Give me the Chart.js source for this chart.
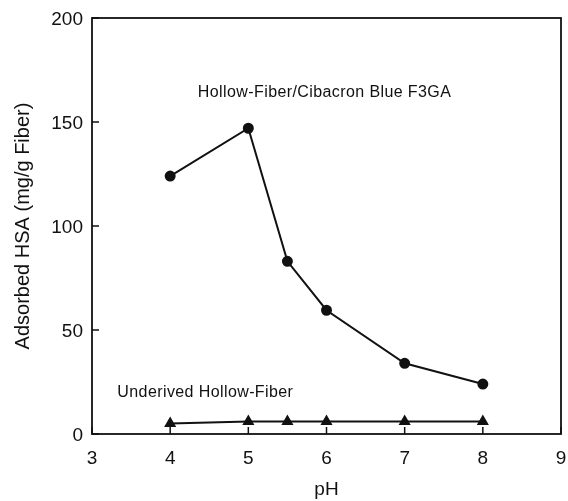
<!DOCTYPE html>
<html>
<head>
<meta charset="utf-8">
<script src="https://cdn.jsdelivr.net/npm/chart.js@4/dist/chart.umd.min.js"></script>
<style>
  html, body { margin: 0; padding: 0; background: #fff; }
  #wrap { width: 568px; height: 501px; position: relative; }
</style>
</head>
<body>
<div id="wrap"><canvas id="chart"></canvas></div>
<script>
// pH values where samples were taken
const phBlue = [4, 5, 5.5, 6, 7, 8];
const hsaBlue = [124, 147, 83, 59.5, 34, 24];

const phPlain = [4, 5, 5.5, 6, 7, 8];
const hsaPlain = [5, 6, 6, 6, 6, 6];

const xTicks = [3, 4, 5, 6, 7, 8, 9];
const yTicks = [0, 50, 100, 150, 200];

// curve labels, placed in data units
const notes = [
    { text: 'Hollow-Fiber/Cibacron Blue F3GA', x: 5.975, y: 163.9 },
    { text: 'Underived Hollow-Fiber', x: 4.45, y: 19.7 }
];

const ink = '#111';
const face = '"Liberation Sans", Arial, sans-serif';

const framePlugin = {
    id: 'frame',
    beforeDatasetsDraw(chart) {
        const { ctx, chartArea: a, scales: { x, y } } = chart;
        ctx.save();
        ctx.strokeStyle = ink;
        ctx.lineWidth = 1.8;
        ctx.strokeRect(a.left, a.top, a.right - a.left, a.bottom - a.top);
        // ticks point inward
        ctx.lineWidth = 1.5;
        ctx.beginPath();
        x.ticks.forEach(t => {
            const px = x.getPixelForValue(t.value);
            ctx.moveTo(px, a.bottom);
            ctx.lineTo(px, a.bottom - 7);
        });
        y.ticks.forEach(t => {
            const py = y.getPixelForValue(t.value);
            ctx.moveTo(a.left, py);
            ctx.lineTo(a.left + 7, py);
        });
        ctx.stroke();
        ctx.restore();
    },
    afterDraw(chart) {
        const { ctx, scales: { x, y } } = chart;
        ctx.save();
        ctx.fillStyle = ink;
        ctx.font = '16px ' + face;
        ctx.letterSpacing = '0.4px';
        ctx.textAlign = 'center';
        ctx.textBaseline = 'middle';
        notes.forEach(n => ctx.fillText(n.text, x.getPixelForValue(n.x), y.getPixelForValue(n.y)));
        ctx.restore();
    }
};

const toPoints = (xs, ys) => xs.map((v, i) => ({ x: v, y: ys[i] }));

new Chart(document.getElementById('chart'), {
    type: 'line',
    data: {
        datasets: [
            {
                label: 'Hollow-Fiber/Cibacron Blue F3GA',
                data: toPoints(phBlue, hsaBlue),
                borderColor: ink,
                backgroundColor: ink,
                borderWidth: 2,
                pointStyle: 'circle',
                pointRadius: 4.5,
                pointHoverRadius: 4.5,
                tension: 0
            },
            {
                label: 'Underived Hollow-Fiber',
                data: toPoints(phPlain, hsaPlain),
                borderColor: ink,
                backgroundColor: ink,
                borderWidth: 2,
                pointStyle: 'triangle',
                pointRadius: 5,
                pointHoverRadius: 5,
                tension: 0
            }
        ]
    },
    options: {
        responsive: true,
        maintainAspectRatio: false,
        animation: false,
        layout: { padding: { top: 18, right: 3, left: 0, bottom: 0 } },
        plugins: {
            legend: { display: false },
            tooltip: { enabled: false }
        },
        scales: {
            x: {
                type: 'linear',
                min: 3,
                max: 9,
                afterBuildTicks: s => { s.ticks = xTicks.map(v => ({ value: v })); },
                afterFit: s => { s.height = 67; s.paddingLeft = 0; s.paddingRight = 0; },
                grid: { display: false, drawTicks: false },
                border: { display: false },
                ticks: {
                    color: ink,
                    padding: 13,
                    font: { family: face, size: 19 }
                },
                title: {
                    display: true,
                    text: 'pH',
                    color: ink,
                    padding: { top: 0, bottom: 0 },
                    font: { family: face, size: 19 }
                }
            },
            y: {
                type: 'linear',
                min: 0,
                max: 200,
                afterBuildTicks: s => { s.ticks = yTicks.map(v => ({ value: v })); },
                afterFit: s => { s.width = 92; s.paddingTop = 0; s.paddingBottom = 0; },
                grid: { display: false, drawTicks: false },
                border: { display: false },
                ticks: {
                    color: ink,
                    padding: 9,
                    labelOffset: 2,
                    font: { family: face, size: 19 }
                },
                title: {
                    display: true,
                    text: 'Adsorbed HSA (mg/g Fiber)',
                    color: ink,
                    padding: { top: 11, bottom: 0 },
                    font: { family: face, size: 20 }
                }
            }
        }
    },
    plugins: [framePlugin]
});
</script>
</body>
</html>
